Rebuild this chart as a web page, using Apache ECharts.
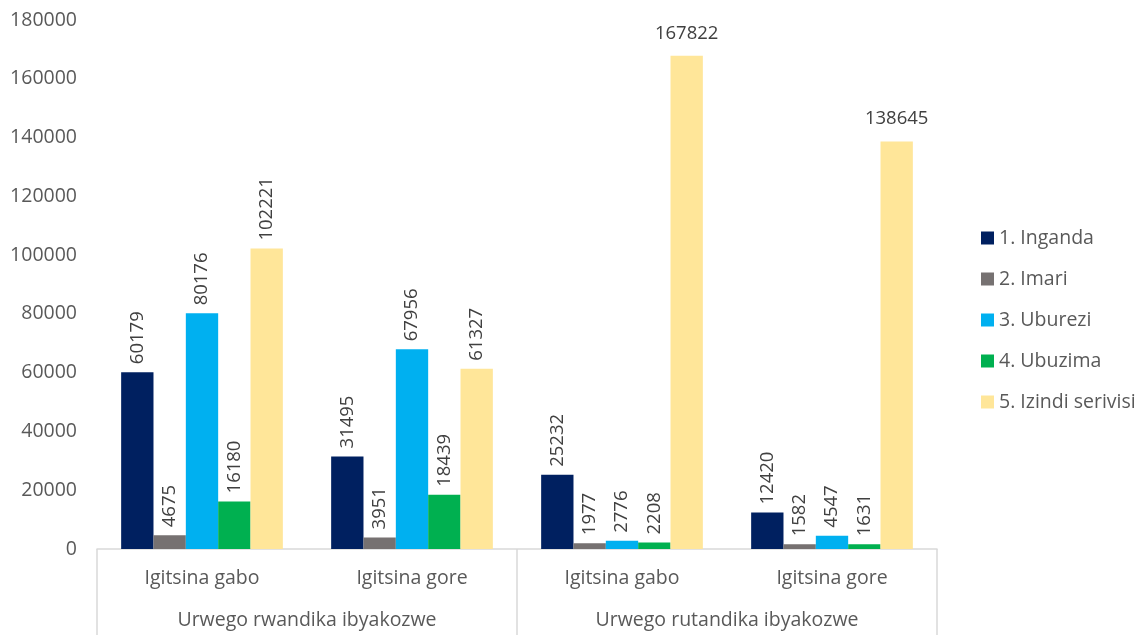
<!DOCTYPE html>
<html>
<head>
<meta charset="utf-8">
<script src="https://cdn.jsdelivr.net/npm/echarts@6/dist/echarts.min.js"></script>
<style>
  html, body { margin: 0; padding: 0; background: #fff; }
  #chart { width: 1136px; height: 635px; }
</style>
</head>
<body>
<div id="chart"></div>
<script>
var categories = ['Igitsina gabo', 'Igitsina gore', 'Igitsina gabo', 'Igitsina gore']
var groups = ['Urwego rwandika ibyakozwe', 'Urwego rutandika ibyakozwe']
var names = ['1. Inganda', '2. Imari', '3. Uburezi', '4. Ubuzima', '5. Izindi serivisi']
var inganda = [60179, 31495, 25232, 12420]
var imari = [4675, 3951, 1977, 1582]
var uburezi = [80176, 67956, 2776, 4547]
var ubuzima = [16180, 18439, 2208, 1631]
var izindi = [102221, 61327, 167822, 138645]
var colors = ['#002060', '#767171', '#00b0f0', '#00b050', '#ffe699']

var font = 'Open Sans'
var textColor = '#595959'

var dom = document.getElementById('chart')
var myChart = echarts.init(dom)

function makeSeries(name, values, color, flatIdx) {
  return {
    name: name,
    type: 'bar',
    barGap: 0,
    barCategoryGap: '23%',
    itemStyle: { color: color },
    data: values.map(function (v, i) {
      var item = { value: v }
      if (flatIdx && flatIdx.indexOf(i) >= 0) {
        // tall bars get a horizontal label like the original
        item.label = { rotate: 0, align: 'center', verticalAlign: 'bottom', distance: 13 }
      }
      return item
    }),
    label: {
      show: true,
      position: 'top',
      rotate: 90,
      align: 'left',
      verticalAlign: 'middle',
      distance: 8,
      color: '#404040',
      fontFamily: font,
      fontSize: 18.5
    }
  }
}

var option = {
  animation: false,
  textStyle: { fontFamily: font },
  grid: { left: 97, right: 199, top: 20, bottom: 86 },
  legend: {
    orient: 'vertical',
    left: 976,
    top: 223,
    itemWidth: 13,
    itemHeight: 13,
    itemGap: 21,
    icon: 'rect',
    textStyle: { color: textColor, fontSize: 19.5, fontFamily: font },
    data: names
  },
  xAxis: [
    {
      type: 'category',
      data: categories,
      axisLine: { lineStyle: { color: '#d9d9d9', width: 1.5 } },
      axisTick: {
        show: true,
        length: 90,
        interval: function (index) { return index % 2 === 0 },
        lineStyle: { color: '#d9d9d9', width: 1.5 }
      },
      axisLabel: { color: textColor, fontSize: 19.5, margin: 19 }
    },
    {
      type: 'category',
      data: groups,
      position: 'bottom',
      axisLine: { show: false },
      axisTick: { show: false },
      axisLabel: { color: textColor, fontSize: 19.5, margin: 61 }
    }
  ],
  yAxis: {
    type: 'value',
    min: 0,
    max: 180000,
    interval: 20000,
    axisLine: { show: false },
    axisTick: { show: false },
    splitLine: { show: false },
    axisLabel: {
      color: textColor,
      fontSize: 19.5,
      margin: 20,
      formatter: function (v) { return String(v) }
    }
  },
  series: [
    makeSeries(names[0], inganda, colors[0]),
    makeSeries(names[1], imari, colors[1]),
    makeSeries(names[2], uburezi, colors[2]),
    makeSeries(names[3], ubuzima, colors[3]),
    makeSeries(names[4], izindi, colors[4], [2, 3])
  ]
}

myChart.setOption(option, true)
</script>
</body>
</html>
